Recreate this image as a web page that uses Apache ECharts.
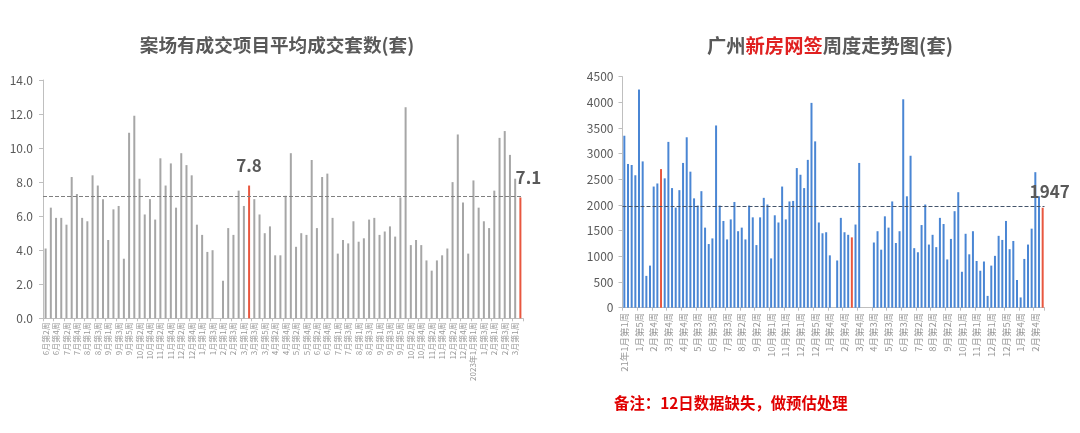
<!DOCTYPE html>
<html>
<head>
<meta charset="utf-8">
<script src="https://cdn.jsdelivr.net/npm/echarts@6/dist/echarts.min.js"></script>
<style>html,body{margin:0;padding:0;background:#fff;}#c{width:1080px;height:433px;}</style>
</head>
<body>
<div id="c"></div>
<script>
// ---- Left chart data ----
const leftCategories = ['6月第2周','6月第3周','6月第4周','7月第1周','7月第2周','7月第3周','7月第4周','7月第5周','8月第1周','8月第2周','8月第3周','8月第4周','9月第1周','9月第2周','9月第3周','9月第4周','9月第5周','10月第1周','10月第2周','10月第3周','10月第4周','11月第1周','11月第2周','11月第3周','11月第4周','12月第1周','12月第2周','12月第3周','12月第4周','12月第5周','1月第1周','1月第2周','1月第3周','1月第4周','2月第1周','2月第2周','2月第3周','2月第4周','3月第1周','3月第2周','3月第3周','3月第4周','3月第5周','4月第1周','4月第2周','4月第3周','4月第4周','5月第1周','5月第2周','5月第3周','5月第4周','6月第1周','6月第2周','6月第3周','6月第4周','6月第5周','7月第1周','7月第2周','7月第3周','7月第4周','8月第1周','8月第2周','8月第3周','8月第4周','9月第1周','9月第2周','9月第3周','9月第4周','9月第5周','10月第1周','10月第2周','10月第3周','10月第4周','11月第1周','11月第2周','11月第3周','11月第4周','12月第1周','12月第2周','12月第3周','12月第4周','12月第5周','2023年1月第1周','1月第2周','1月第3周','1月第4周','2月第1周','2月第2周','2月第3周','2月第4周','3月第1周','3月第2周'];
const leftValues = [4.1,6.5,5.9,5.9,5.5,8.3,7.3,5.9,5.7,8.4,7.8,7.0,4.6,6.4,6.6,3.5,10.9,11.9,8.2,6.1,7.0,5.8,9.4,7.8,9.1,6.5,9.7,9.0,8.4,5.5,4.9,3.9,4.0,null,2.2,5.3,4.9,7.5,6.6,7.8,7.0,6.1,5.0,5.4,3.7,3.7,7.2,9.7,4.2,5.0,4.9,9.3,5.3,8.3,8.5,5.9,3.8,4.6,4.4,5.7,4.5,4.7,5.8,5.9,4.9,5.1,5.4,4.8,7.1,12.4,4.3,4.6,4.3,3.4,2.8,3.4,3.7,4.1,8.0,10.8,6.8,3.8,8.1,6.5,5.7,5.3,7.5,10.6,11.0,9.6,8.2,7.1];
const leftHighlight = [39, 91];
const leftAverage = 7.15;
const leftTicks = [0, 14, 2];

// ---- Right chart data ----
const rightCategories = ['21年1月第1周','1月第2周','1月第3周','1月第4周','1月第5周','2月第1周','2月第2周','2月第3周','2月第4周','3月第1周','3月第2周','3月第3周','3月第4周','4月第1周','4月第2周','4月第3周','4月第4周','4月第5周','5月第1周','5月第2周','5月第3周','5月第4周','6月第1周','6月第2周','6月第3周','6月第4周','7月第1周','7月第2周','7月第3周','7月第4周','7月第5周','8月第1周','8月第2周','8月第3周','8月第4周','9月第1周','9月第2周','9月第3周','9月第4周','9月第5周','10月第1周','10月第2周','10月第3周','10月第4周','11月第1周','11月第2周','11月第3周','11月第4周','12月第1周','12月第2周','12月第3周','12月第4周','12月第5周','1月第1周','1月第2周','1月第3周','1月第4周','2月第1周','2月第2周','2月第3周','2月第4周','3月第1周','3月第2周','3月第3周','3月第4周','3月第5周','4月第1周','4月第2周','4月第3周','4月第4周','5月第1周','5月第2周','5月第3周','5月第4周','6月第1周','6月第2周','6月第3周','6月第4周','6月第5周','7月第1周','7月第2周','7月第3周','7月第4周','8月第1周','8月第2周','8月第3周','8月第4周','9月第1周','9月第2周','9月第3周','9月第4周','9月第5周','10月第1周','10月第2周','10月第3周','10月第4周','11月第1周','11月第2周','11月第3周','11月第4周','12月第1周','12月第2周','12月第3周','12月第4周','12月第5周','1月第1周','1月第2周','1月第3周','1月第4周','2月第1周','2月第2周','2月第3周','2月第4周','3月第1周','3月第2周'];
const rightValues = [3350,2800,2780,2580,4250,2850,620,820,2360,2420,2700,2520,3230,2330,1950,2290,2820,3320,2650,2130,1990,2270,1560,1240,1350,3550,1990,1690,1330,1720,2060,1490,1560,1330,1990,1760,1220,1760,2140,2010,960,1800,1660,2360,1720,2070,2080,2720,2590,2330,2880,3990,3240,1660,1450,1470,1020,null,920,1750,1470,1420,1370,1620,2820,null,null,null,1270,1490,1130,1780,1560,2070,1260,1490,4060,2170,2960,1160,1080,1610,2010,1230,1420,1180,1750,1630,940,1340,1880,2250,700,1440,1040,1490,910,720,900,230,820,1010,1400,1320,1690,1140,1300,540,200,950,1230,1540,2640,2170,1947];
const rightHighlight = [10, 62, 114];
const rightAverage = 1980;
const rightTicks = [0, 4500, 500];

const leftTitle = '案场有成交项目平均成交套数(套)';
const rightTitleParts = ['广州', '新房网签', '周度走势图(套)'];
const noteText = '备注：12日数据缺失，做预估处理';

const CJK = '"Noto Sans CJK SC","Noto Sans",sans-serif';
const GRAY_BAR = '#a6a6a6';
const BLUE_BAR = '#4a86d4';
const RED_BAR = '#e8573f';

function buildData(values, highlight, labelMap) {
  return values.map((v, i) => {
    if (highlight.indexOf(i) >= 0) {
      const item = { value: v, itemStyle: { color: RED_BAR } };
      if (labelMap[i]) item.label = labelMap[i];
      return item;
    }
    return v;
  });
}

const bigLabel = (extra) => Object.assign({
  show: true, position: 'top', fontFamily: CJK, fontWeight: 'bold',
  fontSize: 17, color: '#595959'
}, extra);

const chart = echarts.init(document.getElementById('c'), null, { renderer: 'canvas' });

const option = {
  backgroundColor: '#ffffff',
  animation: false,
  title: [
    { text: leftTitle, left: 277, top: 36, textAlign: 'center', padding: 0,
      textStyle: { fontFamily: CJK, fontSize: 18.6, fontWeight: 'bold', color: '#595959' } },
    { text: '{a|' + rightTitleParts[0] + '}{b|' + rightTitleParts[1] + '}{a|' + rightTitleParts[2] + '}',
      left: 830, top: 36, textAlign: 'center', padding: 0,
      textStyle: { fontFamily: CJK, fontSize: 19.3, fontWeight: 'bold', color: '#595959',
        rich: {
          a: { fontFamily: CJK, fontSize: 19.3, fontWeight: 'bold', color: '#595959' },
          b: { fontFamily: CJK, fontSize: 19.3, fontWeight: 'bold', color: '#e02020' }
        } } }
  ],
  graphic: [
    { type: 'text', left: 614, top: 395,
      style: { text: noteText, fill: '#e00000', font: 'bold 15.4px ' + CJK } }
  ],
  grid: [
    { left: 43, top: 80, width: 480, height: 238.3, containLabel: false },
    { left: 622.5, top: 76.7, width: 422, height: 231, containLabel: false }
  ],
  xAxis: [
    { type: 'category', gridIndex: 0, data: leftCategories,
      axisLine: { lineStyle: { color: '#bfbfbf' } },
      axisTick: { show: true, length: 3, lineStyle: { color: '#bfbfbf' } },
      axisLabel: { interval: 1, rotate: 90, fontSize: 8, color: '#999999', fontFamily: CJK, margin: 4 } },
    { type: 'category', gridIndex: 1, data: rightCategories,
      axisLine: { lineStyle: { color: '#bfbfbf' } },
      axisTick: { show: true, length: 3, lineStyle: { color: '#bfbfbf' } },
      axisLabel: { interval: 3, rotate: 90, fontSize: 9.5, color: '#9a9a9a', fontFamily: CJK, margin: 5 } }
  ],
  yAxis: [
    { type: 'value', gridIndex: 0, min: leftTicks[0], max: leftTicks[1], interval: leftTicks[2],
      splitLine: { show: false },
      axisLine: { show: true, lineStyle: { color: '#bfbfbf' } },
      axisTick: { show: true, length: 4, lineStyle: { color: '#bfbfbf' } },
      axisLabel: { formatter: v => v.toFixed(1), fontSize: 12, color: '#595959', fontFamily: CJK, margin: 10 } },
    { type: 'value', gridIndex: 1, min: rightTicks[0], max: rightTicks[1], interval: rightTicks[2],
      splitLine: { show: false },
      axisLine: { show: true, lineStyle: { color: '#bfbfbf' } },
      axisTick: { show: true, length: 4, lineStyle: { color: '#bfbfbf' } },
      axisLabel: { formatter: v => String(v), fontSize: 12, color: '#595959', fontFamily: CJK, margin: 9 } }
  ],
  series: [
    { type: 'bar', xAxisIndex: 0, yAxisIndex: 0, barWidth: 2,
      itemStyle: { color: GRAY_BAR },
      data: buildData(leftValues, leftHighlight, {
        39: bigLabel({ distance: 11 }),
        91: bigLabel({ offset: [8, -6] })
      }),
      markLine: { silent: true, symbol: 'none', label: { show: false },
        lineStyle: { type: 'dashed', color: '#7f7f7f', width: 1 },
        data: [{ yAxis: leftAverage }] } },
    { type: 'bar', xAxisIndex: 1, yAxisIndex: 1, barWidth: 2,
      itemStyle: { color: BLUE_BAR },
      data: buildData(rightValues, rightHighlight, {
        114: bigLabel({ offset: [7, -3] })
      }),
      markLine: { silent: true, symbol: 'none', label: { show: false },
        lineStyle: { type: 'dashed', color: '#44546a', width: 1 },
        data: [{ yAxis: rightAverage }] } }
  ]
};
chart.setOption(option);
</script>
</body>
</html>
